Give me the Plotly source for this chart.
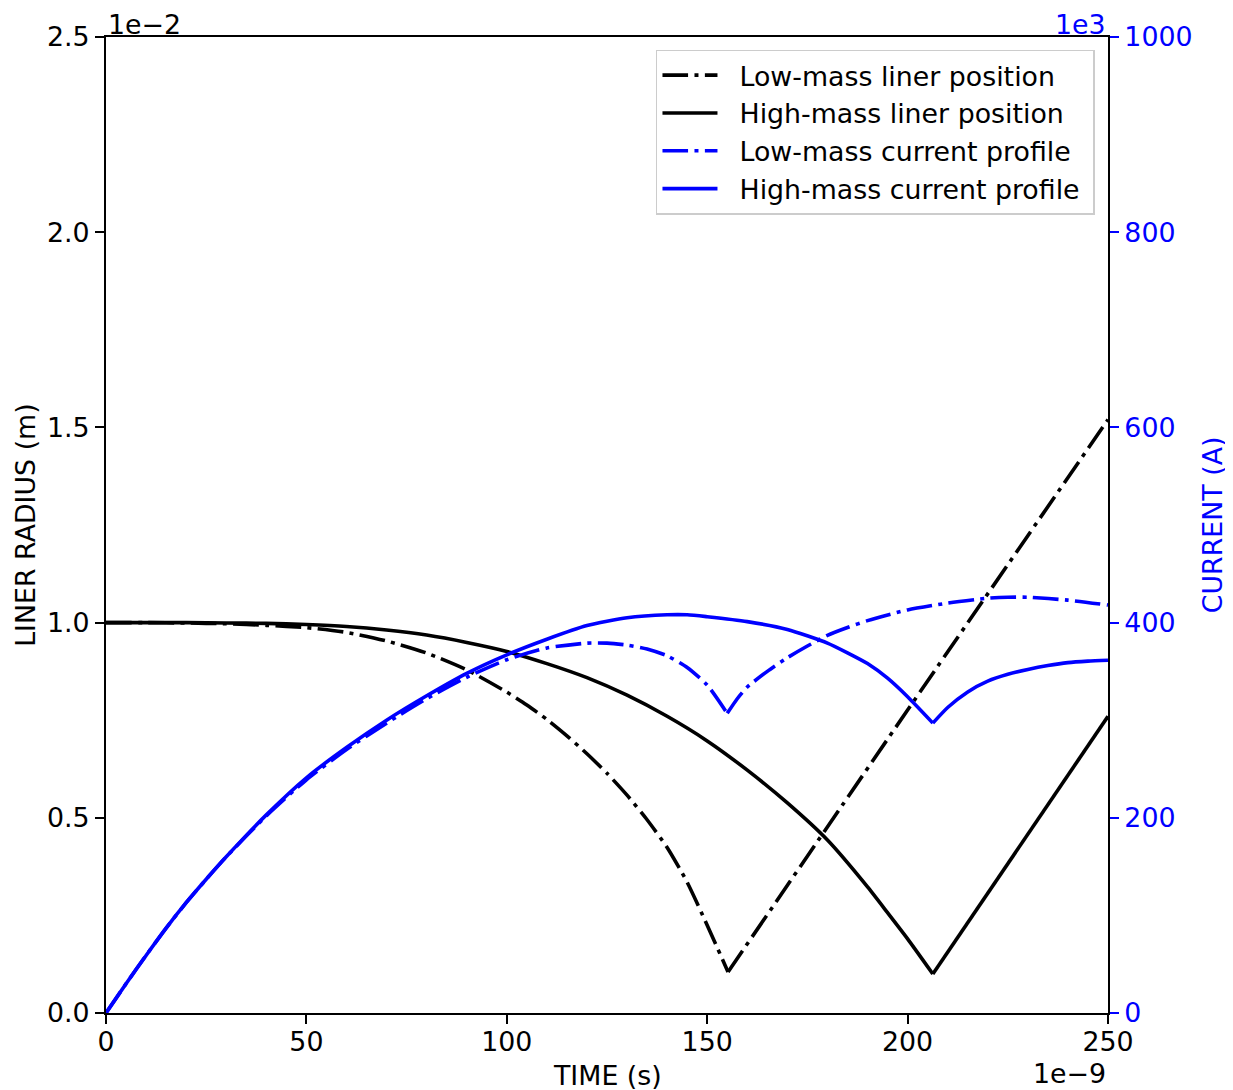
import plotly.graph_objects as go

# ---- data (time in units of 1e-9 s, radius in 1e-2 m, current in 1e3 A) ----
t_low_r = [0, 10, 20, 30, 40, 50, 60, 70, 80, 90, 100, 105, 110, 115, 120, 125, 130, 135,
           140, 145, 150, 155.2, 200, 250]
r_low = [1.000, 1.000, 0.999, 0.997, 0.993, 0.987, 0.975, 0.953, 0.922, 0.879, 0.822, 0.789,
         0.752, 0.710, 0.664, 0.614, 0.558, 0.495, 0.424, 0.335, 0.225, 0.105, 0.776, 1.520]

t_high_r = [0, 10, 20, 30, 40, 50, 60, 70, 80, 90, 100, 110, 120, 130, 140, 150, 160, 170,
            180, 190, 195, 200, 206.3, 250]
r_high = [1.000, 1.000, 1.000, 0.999, 0.998, 0.995, 0.990, 0.981, 0.968, 0.949, 0.926, 0.895,
          0.859, 0.814, 0.760, 0.697, 0.622, 0.538, 0.443, 0.323, 0.257, 0.190, 0.100, 0.760]

t_low_i = [0, 5, 10, 15, 20, 25, 30, 40, 50, 60, 70, 80, 90, 100, 110, 120, 125, 130, 135, 140,
           145, 150, 155, 157.5, 160, 165, 170, 175, 180, 185, 190, 200, 210, 220, 225, 230, 240, 250]
i_low = [0, 30, 59, 87, 113, 137, 160, 202, 239, 270, 297, 322, 344, 362, 374, 379, 379, 377, 373,
         366, 354, 336, 307, 322, 334, 350, 364, 376, 387, 395, 402, 413, 420, 425, 426, 426, 423, 418]

t_high_i = [0, 5, 10, 15, 20, 25, 30, 40, 50, 60, 70, 80, 90, 100, 110, 120, 130, 140, 145, 150,
            160, 170, 180, 185, 190, 195, 200, 206.3, 210, 215, 220, 225, 230, 235, 240, 245, 250]
i_high = [0, 30, 59, 87, 113, 137, 160, 203, 241, 272, 300, 325, 348, 367, 383, 397, 405, 408, 408,
          406, 401, 393, 379, 369, 358, 343, 324, 297, 313, 329, 340, 347, 352, 356, 359, 360.5, 361.5]

x_ticks = [0, 50, 100, 150, 200, 250]
y_ticks = [0.0, 0.5, 1.0, 1.5, 2.0, 2.5]
y2_ticks = [0, 200, 400, 600, 800, 1000]

labels = ["Low-mass liner position", "High-mass liner position",
          "Low-mass current profile", "High-mass current profile"]

FONT = "DejaVu Sans"
FS = 26.8
BLUE = "#0000ff"
DASHDOT = "25.6px,6.4px,4px,6.4px"
LW = 3.6
GAP = "\u00a0\u00a0"

fig = go.Figure()


def add_series(t, v, name, color, dash, yaxis):
    # split at the cusp (turning point) so the smooth spline keeps the sharp corner
    k = max(range(1, len(v) - 1), key=lambda j: (v[j - 1] > v[j] < v[j + 1]) * (10000 - v[j]))
    line = dict(color=color, width=LW, dash=dash, shape="spline", smoothing=0.6)
    fig.add_trace(go.Scatter(x=t[:k + 1], y=v[:k + 1], mode="lines", name=GAP + name + "\u00a0",
                             legendgroup=name, yaxis=yaxis, line=line))
    fig.add_trace(go.Scatter(x=t[k:], y=v[k:], mode="lines", name=GAP + name,
                             legendgroup=name, showlegend=False, yaxis=yaxis, line=line))


add_series(t_low_r, r_low, labels[0], "black", DASHDOT, "y")
add_series(t_high_r, r_high, labels[1], "black", "solid", "y")
add_series(t_low_i, i_low, labels[2], BLUE, DASHDOT, "y2")
add_series(t_high_i, i_high, labels[3], BLUE, "solid", "y2")

fig.update_layout(
    width=1225, height=1082,
    margin=dict(l=98, r=125, t=29, b=77),
    paper_bgcolor="white", plot_bgcolor="white",
    font=dict(family=FONT, size=FS, color="black"),
    showlegend=True,
    legend=dict(x=0.987, y=0.987, xanchor="right", yanchor="top",
                bgcolor="rgba(255,255,255,0.8)", bordercolor="#cccccc", borderwidth=1.5,
                font=dict(family=FONT, size=FS, color="black"), itemwidth=55,
                tracegroupgap=0),
    xaxis=dict(range=[0, 250], tickvals=x_ticks, ticktext=[str(v) for v in x_ticks],
               showgrid=False, zeroline=False, showline=True, linecolor="black", linewidth=2,
               mirror=True, ticks="outside", ticklen=9, tickwidth=2, tickcolor="black",
               ticklabelstandoff=-5,
               tickfont=dict(family=FONT, size=FS, color="black"), automargin=False),
    yaxis=dict(range=[0, 2.5], tickvals=y_ticks, ticktext=[f"{v:.1f}" for v in y_ticks],
               showgrid=False, zeroline=False, showline=True, linecolor="black", linewidth=2,
               ticks="outside", ticklen=9, tickwidth=2, tickcolor="black",
               tickfont=dict(family=FONT, size=FS, color="black"), automargin=False),
    yaxis2=dict(range=[0, 1000], tickvals=y2_ticks, ticktext=[str(v) for v in y2_ticks],
                overlaying="y", side="right", anchor="x",
                showgrid=False, zeroline=False, showline=True, linecolor="black", linewidth=2,
                ticks="outside", ticklen=9, tickwidth=2, tickcolor=BLUE,
                tickfont=dict(family=FONT, size=FS, color=BLUE), automargin=False),
)

ann = [
    dict(text="TIME (s)", x=0.5, y=-0.064, xanchor="center", yanchor="middle", color="black"),
    dict(text="1e\u22129", x=1.0, y=-0.062, xanchor="right", yanchor="middle", color="black"),
    dict(text="1e\u22122", x=0.0, y=1.0133, xanchor="left", yanchor="middle", color="black"),
    dict(text="1e3", x=1.0, y=1.0133, xanchor="right", yanchor="middle", color=BLUE),
]
for a in ann:
    fig.add_annotation(text=a["text"], xref="paper", yref="paper", x=a["x"], y=a["y"],
                       xanchor=a["xanchor"], yanchor=a["yanchor"], showarrow=False,
                       font=dict(family=FONT, size=FS, color=a["color"]))
fig.add_annotation(text="LINER RADIUS (m)", xref="paper", yref="paper", x=-0.081, y=0.5,
                   xanchor="center", yanchor="middle", textangle=-90, showarrow=False,
                   font=dict(family=FONT, size=FS, color="black"))
fig.add_annotation(text="CURRENT (A)", xref="paper", yref="paper", x=1.104, y=0.5,
                   xanchor="center", yanchor="middle", textangle=-90, showarrow=False,
                   font=dict(family=FONT, size=FS, color=BLUE))

fig.write_html("out.html")
